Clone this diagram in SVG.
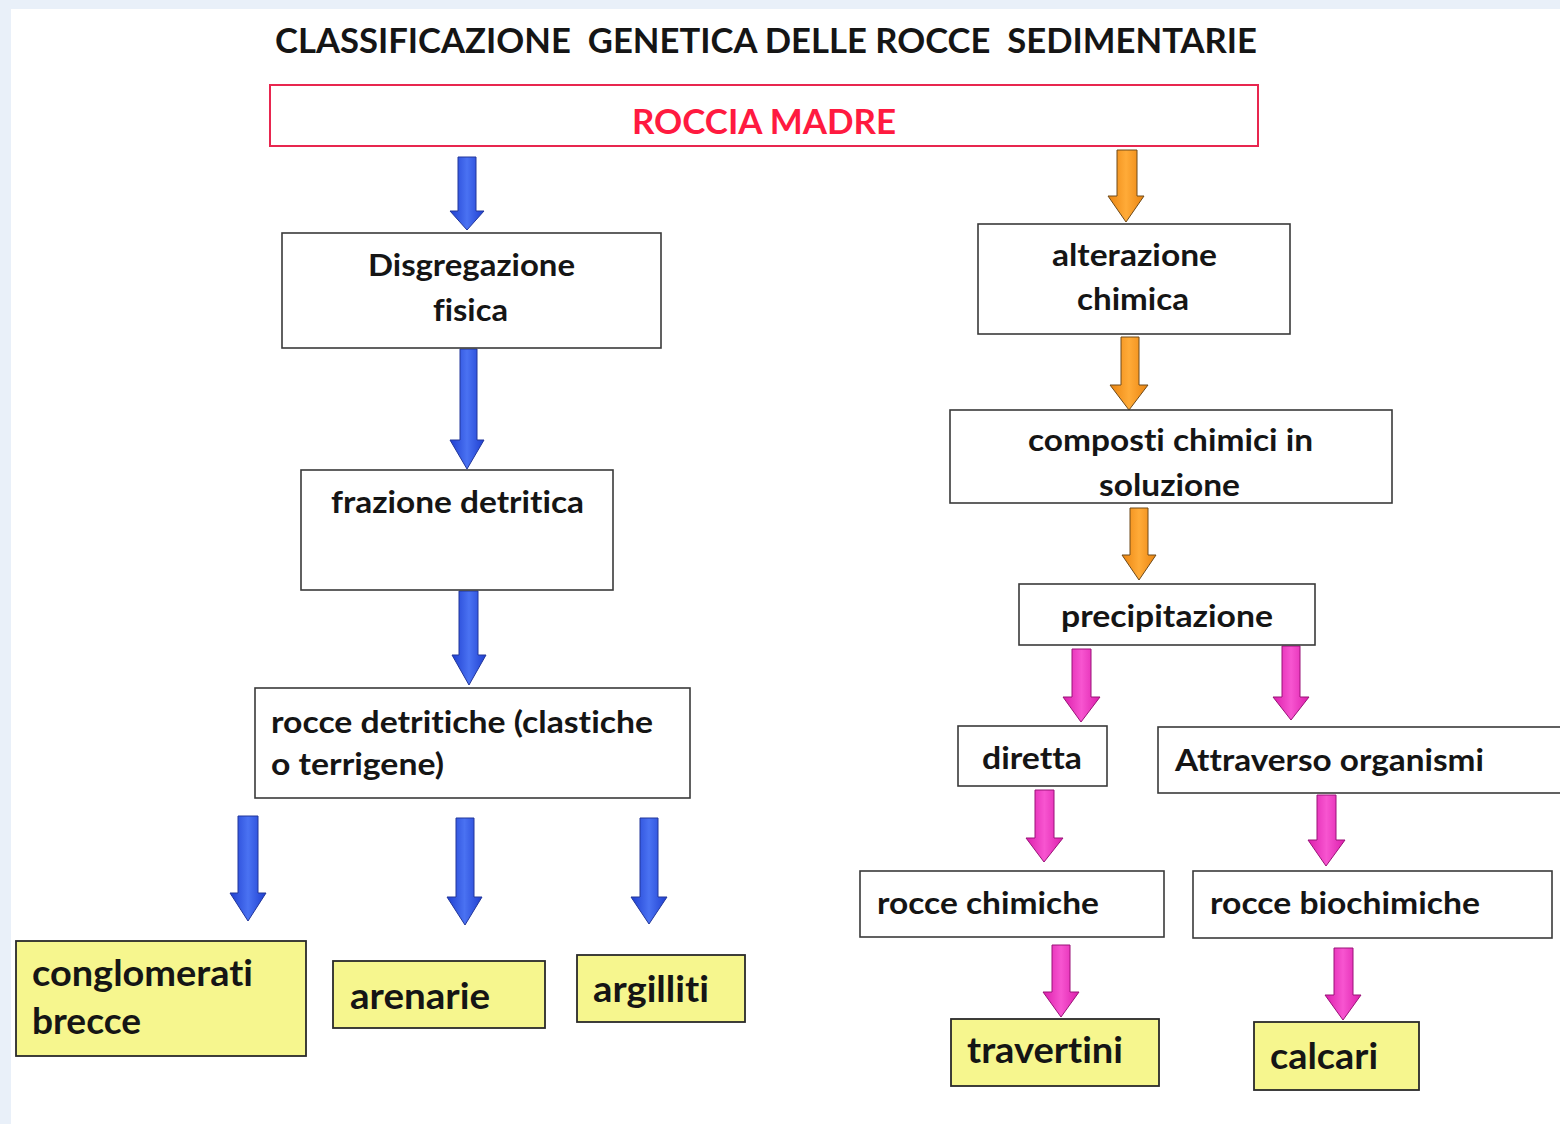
<svg xmlns="http://www.w3.org/2000/svg" width="1560" height="1124" viewBox="0 0 1560 1124">
<defs>
<linearGradient id="gb" x1="0" y1="0" x2="1" y2="0"><stop offset="0" stop-color="#1f3fd0"/><stop offset="0.5" stop-color="#4a72f2"/><stop offset="1" stop-color="#1f3fd0"/></linearGradient>
<linearGradient id="go" x1="0" y1="0" x2="1" y2="0"><stop offset="0" stop-color="#ea8410"/><stop offset="0.5" stop-color="#ffab38"/><stop offset="1" stop-color="#ea8410"/></linearGradient>
<linearGradient id="gp" x1="0" y1="0" x2="1" y2="0"><stop offset="0" stop-color="#dc1eac"/><stop offset="0.5" stop-color="#f755d0"/><stop offset="1" stop-color="#dc1eac"/></linearGradient>
</defs>
<style>
.box{fill:#ffffff;stroke:#3a3a3a;stroke-width:1.6}
.yel{fill:#f6f68e;stroke:#2a2a2a;stroke-width:1.8}
.red{fill:#ffffff;stroke:#e8264f;stroke-width:2}
.t{font-family:Lato,"Open Sans","Liberation Sans",sans-serif;font-weight:700;fill:#151515;font-size:31px;font-variant-ligatures:none;font-feature-settings:"liga" 0,"dlig" 0;white-space:pre}
.ty{font-size:37px}
.ti{font-size:34px}
.tr{fill:#ff1a40;font-size:35px}
.ab{fill:url(#gb);stroke:#22369a;stroke-width:1}
.ao{fill:url(#go);stroke:#6e4a1a;stroke-width:1}
.ap{fill:url(#gp);stroke:#9a1278;stroke-width:1}
</style>
<rect x="0" y="0" width="1560" height="1124" fill="#e9f0f9"/>
<rect x="11" y="9" width="1549" height="1115" fill="#ffffff"/>
<text class="t ti" x="275" y="53" textLength="982" lengthAdjust="spacingAndGlyphs" xml:space="preserve">CLASSIFICAZIONE  GENETICA DELLE ROCCE  SEDIMENTARIE</text>
<g id="connectors">
<path class="ab" d="M458,157 H476 V211 H484 L467,230 L450,211 H458 Z"/>
<path class="ab" d="M460,349 H477 V440 H484 L467,469 L450,440 H460 Z"/>
<path class="ab" d="M459,591 H478 V655 H486 L469,685 L452,655 H459 Z"/>
<path class="ab" d="M238,816 H258 V893 H266 L248,921 L230,893 H238 Z"/>
<path class="ab" d="M456,818 H474 V897 H482 L465,925 L447,897 H456 Z"/>
<path class="ab" d="M640,818 H658 V897 H667 L649,924 L631,897 H640 Z"/>
<path class="ao" d="M1117,150 H1137 V196 H1144 L1126,222 L1108,196 H1117 Z"/>
<path class="ao" d="M1121,337 H1139 V385 H1148 L1129,410 L1110,385 H1121 Z"/>
<path class="ao" d="M1130,508 H1148 V555 H1156 L1139,580 L1122,555 H1130 Z"/>
<path class="ap" d="M1072,649 H1091 V697 H1100 L1081,722 L1063,697 H1072 Z"/>
<path class="ap" d="M1282,646 H1300 V697 H1309 L1291,720 L1273,697 H1282 Z"/>
<path class="ap" d="M1035,790 H1054 V838 H1063 L1044,862 L1026,838 H1035 Z"/>
<path class="ap" d="M1317,795 H1336 V840 H1345 L1326,866 L1308,840 H1317 Z"/>
<path class="ap" d="M1052,945 H1070 V992 H1079 L1061,1017 L1043,992 H1052 Z"/>
<path class="ap" d="M1334,948 H1353 V995 H1361 L1343,1020 L1325,995 H1334 Z"/>
</g>
<g id="roccia-madre"><rect class="red" x="270" y="85" width="988" height="61"/><text class="t tr" x="632" y="134" textLength="264" lengthAdjust="spacingAndGlyphs">ROCCIA MADRE</text></g>
<g id="disgregazione"><rect class="box" x="282" y="233" width="379" height="115"/><text class="t" x="368" y="276" textLength="207" lengthAdjust="spacingAndGlyphs">Disgregazione</text><text class="t" x="433" y="321" textLength="75" lengthAdjust="spacingAndGlyphs">fisica</text></g>
<g id="frazione"><rect class="box" x="301" y="470" width="312" height="120"/><text class="t" x="331" y="513" textLength="253" lengthAdjust="spacingAndGlyphs">frazione detritica</text></g>
<g id="rocce-detritiche"><rect class="box" x="255" y="688" width="435" height="110"/><text class="t" x="271" y="733" textLength="382" lengthAdjust="spacingAndGlyphs">rocce detritiche (clastiche</text><text class="t" x="271" y="775" textLength="173" lengthAdjust="spacingAndGlyphs">o terrigene)</text></g>
<g id="conglomerati"><rect class="yel" x="16" y="941" width="290" height="115"/><text class="t ty" x="32" y="986" textLength="221" lengthAdjust="spacingAndGlyphs">conglomerati</text><text class="t ty" x="32" y="1034" textLength="109" lengthAdjust="spacingAndGlyphs">brecce</text></g>
<g id="arenarie"><rect class="yel" x="333" y="961" width="212" height="67"/><text class="t ty" x="350" y="1009" textLength="140" lengthAdjust="spacingAndGlyphs">arenarie</text></g>
<g id="argilliti"><rect class="yel" x="577" y="955" width="168" height="67"/><text class="t ty" x="593" y="1002" textLength="116" lengthAdjust="spacingAndGlyphs">argilliti</text></g>
<g id="alterazione"><rect class="box" x="978" y="224" width="312" height="110"/><text class="t" x="1052" y="266" textLength="165" lengthAdjust="spacingAndGlyphs">alterazione</text><text class="t" x="1077" y="310" textLength="112" lengthAdjust="spacingAndGlyphs">chimica</text></g>
<g id="composti"><rect class="box" x="950" y="410" width="442" height="93"/><text class="t" x="1028" y="451" textLength="285" lengthAdjust="spacingAndGlyphs">composti chimici in</text><text class="t" x="1099" y="496" textLength="141" lengthAdjust="spacingAndGlyphs">soluzione</text></g>
<g id="precipitazione"><rect class="box" x="1019" y="584" width="296" height="61"/><text class="t" x="1061" y="627" textLength="212" lengthAdjust="spacingAndGlyphs">precipitazione</text></g>
<g id="diretta"><rect class="box" x="958" y="726" width="149" height="60"/><text class="t" x="982" y="769" textLength="100" lengthAdjust="spacingAndGlyphs">diretta</text></g>
<g id="attraverso"><rect class="box" x="1158" y="727" width="410" height="66"/><text class="t" x="1175" y="771" textLength="309" lengthAdjust="spacingAndGlyphs">Attraverso organismi</text></g>
<g id="rocce-chimiche"><rect class="box" x="860" y="871" width="304" height="66"/><text class="t" x="877" y="914" textLength="222" lengthAdjust="spacingAndGlyphs">rocce chimiche</text></g>
<g id="rocce-biochimiche"><rect class="box" x="1193" y="871" width="359" height="67"/><text class="t" x="1210" y="914" textLength="270" lengthAdjust="spacingAndGlyphs">rocce biochimiche</text></g>
<g id="travertini"><rect class="yel" x="951" y="1019" width="208" height="67"/><text class="t ty" x="967" y="1063" textLength="156" lengthAdjust="spacingAndGlyphs">travertini</text></g>
<g id="calcari"><rect class="yel" x="1254" y="1022" width="165" height="68"/><text class="t ty" x="1270" y="1069" textLength="108" lengthAdjust="spacingAndGlyphs">calcari</text></g>
</svg>
